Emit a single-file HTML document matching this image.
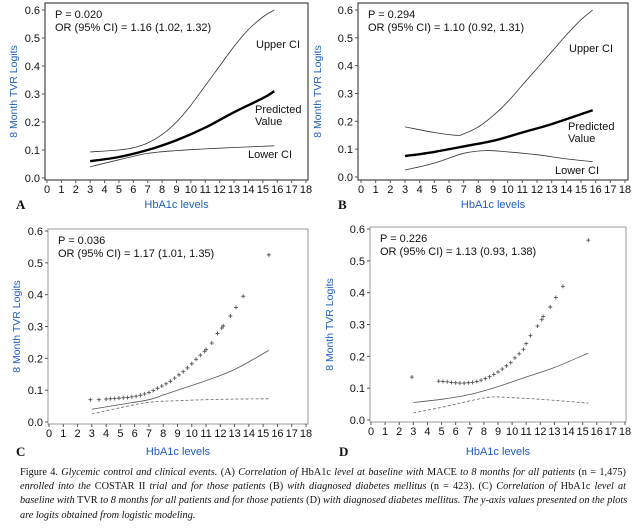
<!DOCTYPE html>
<html><head><meta charset="utf-8"><style>
html,body{margin:0;padding:0;background:#fff;width:644px;height:528px;overflow:hidden}
svg{display:block}
.cap{position:absolute;left:20px;top:466px;width:606px;font-family:"Liberation Serif",serif;font-size:10.3px;line-height:14.2px;color:#111}
.cap div{white-space:nowrap;text-align:justify;text-align-last:justify}
.cap div.last{text-align-last:left}
</style></head><body>
<svg id="fig" width="644" height="528" viewBox="0 0 644 528" font-family="Liberation Sans, sans-serif"></svg>
<div class="cap">
<div><b style="font-weight:normal">Figure 4.</b> <i>Glycemic control and clinical events.</i> (A) <i>Correlation of</i> HbA1c <i>level at baseline with</i> MACE <i>to 8 months for all patients</i> (n = 1,475)</div>
<div><i>enrolled into the</i> COSTAR II <i>trial and for those patients</i> (B) <i>with diagnosed diabetes mellitus</i> (n = 423). (C) <i>Correlation of</i> HbA1c <i>level at</i></div>
<div><i>baseline with</i> TVR <i>to 8 months for all patients and for those patients</i> (D) <i>with diagnosed diabetes mellitus. The y-axis values presented on the plots</i></div>
<div class="last"><i>are logits obtained from logistic modeling.</i></div>
</div>
<script>
// ---- data ----
const xTicks=[0,1,2,3,4,5,6,7,8,9,10,11,12,13,14,15,16,17,18];
const yTicks=[0,0.1,0.2,0.3,0.4,0.5,0.6];
const yTickLabels=["0.0","0.1","0.2","0.3","0.4","0.5","0.6"];
const aX=[3,5,7,9,11,13,15,15.8];
const aPred=[0.06,0.075,0.1,0.135,0.18,0.235,0.285,0.31];
const aUpX=[3,5,6,7,8,9,10,11,12,13,14,15,15.8];
const aUp=[0.093,0.1,0.108,0.125,0.155,0.2,0.26,0.33,0.4,0.47,0.53,0.575,0.6];
const aLoX=[3,5,7,9,11,13,15.8];
const aLo=[0.04,0.065,0.088,0.098,0.104,0.109,0.115];
const bX=[3,5,7,9,11,13,15.8];
const bPred=[0.075,0.09,0.11,0.13,0.16,0.19,0.24];
const bUpX=[3,5,6.5,7,8,9,10,11,12,13,14,15,15.8];
const bUp=[0.18,0.16,0.15,0.155,0.18,0.22,0.27,0.33,0.39,0.45,0.51,0.565,0.6];
const bLoX=[3,5,7,8.5,10,12,14,15.8];
const bLo=[0.025,0.05,0.085,0.095,0.09,0.08,0.065,0.055];
const cPtX=[2.9,3.5,4.0,4.3,4.6,4.9,5.2,5.5,5.8,6.1,6.4,6.7,7.0,7.3,7.6,7.9,8.2,8.5,8.8,9.1,9.4,9.7,10.0,10.3,10.6,10.9,11.0,11.4,11.8,12.1,12.2,12.7,13.1,13.6,15.4];
const cPtY=[0.07,0.07,0.072,0.073,0.074,0.075,0.076,0.077,0.079,0.081,0.084,0.088,0.093,0.099,0.106,0.113,0.12,0.128,0.138,0.148,0.158,0.17,0.183,0.197,0.21,0.222,0.228,0.248,0.278,0.295,0.302,0.333,0.36,0.395,0.525];
const cSolX=[3,5,7,8,9,11,13,15.4];
const cSol=[0.04,0.055,0.07,0.085,0.1,0.13,0.165,0.225];
const cDashX=[3,5,7,9,11,13,15.4];
const cDash=[0.025,0.045,0.062,0.067,0.07,0.072,0.073];
const dPtX=[2.9,4.8,5.1,5.4,5.7,6.0,6.3,6.6,6.9,7.2,7.5,7.8,8.1,8.4,8.7,9.0,9.3,9.6,9.9,10.2,10.5,10.8,11.0,11.3,11.8,12.1,12.2,12.7,13.1,13.6,15.4];
const dPtY=[0.135,0.122,0.121,0.12,0.118,0.117,0.116,0.116,0.117,0.118,0.121,0.125,0.13,0.136,0.143,0.151,0.16,0.17,0.18,0.195,0.208,0.222,0.24,0.265,0.295,0.315,0.325,0.355,0.385,0.42,0.565];
const dSolX=[3,5,7,9,11,13,15.4];
const dSol=[0.055,0.065,0.08,0.105,0.135,0.165,0.21];
const dDashX=[3,5,7,8.5,10,12,15.4];
const dDash=[0.022,0.04,0.06,0.072,0.07,0.065,0.053];

const NS="http://www.w3.org/2000/svg";
const svg=document.getElementById('fig');
function mk(tag,attrs,parent){const e=document.createElementNS(NS,tag);for(const k in attrs)e.setAttribute(k,attrs[k]);(parent||svg).appendChild(e);return e;}
function txt(s,x,y,attrs,parent){const t=mk('text',Object.assign({x:x,y:y,'font-size':11,fill:'#111'},attrs||{}),parent);t.textContent=s;return t;}
function smooth(pts){let d='M'+pts[0][0]+','+pts[0][1];for(let i=0;i<pts.length-1;i++){const p0=pts[i-1]||pts[i],p1=pts[i],p2=pts[i+1],p3=pts[i+2]||p2;
const c1x=p1[0]+(p2[0]-p0[0])/6,c1y=p1[1]+(p2[1]-p0[1])/6,c2x=p2[0]-(p3[0]-p1[0])/6,c2y=p2[1]-(p3[1]-p1[1])/6;
d+=' C'+c1x.toFixed(1)+','+c1y.toFixed(1)+' '+c2x.toFixed(1)+','+c2y.toFixed(1)+' '+p2[0].toFixed(1)+','+p2[1].toFixed(1);}return d;}

function panel(cfg){
  const g=mk('g',{});
  
  
  const sx=v=>cfg.x0+(cfg.x18-cfg.x0)*v/18;
  const sy=v=>cfg.y0+(cfg.y6-cfg.y0)*v/0.6;
  const box=mk('rect',{x:cfg.l,y:cfg.t,width:cfg.r-cfg.l,height:cfg.b-cfg.t,fill:'none',stroke:cfg.frame,'stroke-width':1},g);
  
  
  xTicks.forEach(v=>{mk('line',{x1:sx(v),x2:sx(v),y1:cfg.b,y2:cfg.b+3,stroke:'#555'},g);
    const t=txt(String(v),sx(v),cfg.b+13,{'text-anchor':'middle','font-size':11},g);
    
    });
  yTicks.forEach((v,i)=>{mk('line',{x1:cfg.l-3,x2:cfg.l,y1:sy(v),y2:sy(v),stroke:'#555'},g);
    const t=txt(yTickLabels[i],cfg.l-5,sy(v)+4,{'text-anchor':'end','font-size':11},g);
    
    });
  const yt=txt('8 Month TVR Logits',0,0,{'text-anchor':'middle','font-size':10.5,fill:'#1f5fbf',transform:'translate('+(cfg.id==='b'||cfg.id==='d'?cfg.l-37:cfg.l-28)+','+((cfg.t+cfg.b)/2)+') rotate(-90)'},g);
  
  
  const xt=txt('HbA1c levels',(cfg.l+cfg.r)/2,cfg.xtY,{'text-anchor':'middle','font-size':11,fill:'#1f5fbf'},g);
  
  
  const pl=txt(cfg.id.toUpperCase(),cfg.letX,cfg.xtY+1,{'font-family':'Liberation Serif, serif','font-weight':'bold','font-size':13},g);
  
  
  const p1=txt(cfg.p,cfg.l+10,cfg.t+15,{},g);
  
  
  const p2=txt(cfg.or,cfg.l+10,cfg.t+28,{},g);
  
  
  cfg.lines.forEach(L=>{
    const pts=L.x.map((v,i)=>[sx(v),sy(L.y[i])]);
    const p=mk('path',{d:smooth(pts),fill:'none',stroke:L.c,'stroke-width':L.w,'stroke-dasharray':L.dash||'none'},g);
    
    
  });
  if(cfg.px){cfg.px.forEach((v,i)=>{const X=sx(v),Y=sy(cfg.py[i]);
    const m=mk('path',{d:'M'+(X-2)+','+Y+'H'+(X+2)+'M'+X+','+(Y-2)+'V'+(Y+2),stroke:'#555','stroke-width':0.9},g);
    
    });}
  (cfg.labels||[]).forEach(a=>{const t=txt(a[0],a[1],a[2],{},g);
    
    });
}
panel({id:'a',l:45,r:308,t:3,b:180,x0:47,x18:306,y0:178,y6:10,frame:'#222',xtY:208,letX:16,
  p:'P = 0.020',or:'OR (95% CI) = 1.16 (1.02, 1.32)',
  lines:[{x:aUpX,y:aUp,c:'#333',w:0.8,name:'upper-ci-line'},{x:aX,y:aPred,c:'#000',w:2.4,name:'predicted-line'},{x:aLoX,y:aLo,c:'#333',w:0.8,name:'lower-ci-line'}],
  labels:[['Upper CI',256,48],['Predicted',255,113],['Value',255,125],['Lower CI',248,158]]});
panel({id:'b',l:358,r:628,t:3,b:180,x0:361,x18:625,y0:177,y6:10,frame:'#222',xtY:208,letX:338,
  p:'P = 0.294',or:'OR (95% CI) = 1.10 (0.92, 1.31)',
  lines:[{x:bUpX,y:bUp,c:'#333',w:0.8,name:'upper-ci-line'},{x:bX,y:bPred,c:'#000',w:2.4,name:'predicted-line'},{x:bLoX,y:bLo,c:'#333',w:0.8,name:'lower-ci-line'}],
  labels:[['Upper CI',569,52],['Predicted',568,130],['Value',568,142],['Lower CI',555,174]]});
panel({id:'c',l:48,r:308,t:229,b:424,x0:49,x18:306,y0:422,y6:231,frame:'#999',xtY:455,letX:16,
  p:'P = 0.036',or:'OR (95% CI) = 1.17 (1.01, 1.35)',
  lines:[{x:cSolX,y:cSol,c:'#555',w:0.8,name:'solid-line'},{x:cDashX,y:cDash,c:'#666',w:0.8,dash:'3,2',name:'dashed-line'}],px:cPtX,py:cPtY});
panel({id:'d',l:370,r:626,t:227,b:422,x0:371,x18:625,y0:420,y6:229,frame:'#999',xtY:455,letX:339,
  p:'P = 0.226',or:'OR (95% CI) = 1.13 (0.93, 1.38)',
  lines:[{x:dSolX,y:dSol,c:'#555',w:0.8,name:'solid-line'},{x:dDashX,y:dDash,c:'#666',w:0.8,dash:'3,2',name:'dashed-line'}],px:dPtX,py:dPtY});
</script>
</body></html>
